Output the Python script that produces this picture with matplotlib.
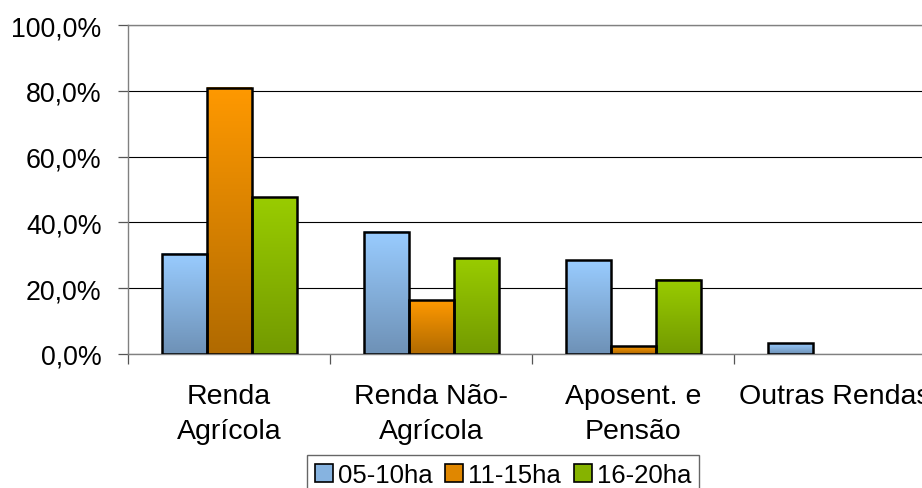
import matplotlib
matplotlib.use("Agg")
import matplotlib.pyplot as plt
import numpy as np
from matplotlib.colors import LinearSegmentedColormap
from matplotlib.patches import Patch

categories = ["Renda\nAgrícola", "Renda Não-\nAgrícola", "Aposent. e\nPensão", "Outras Rendas"]
series_names = ["05-10ha", "11-15ha", "16-20ha"]
s_05_10 = [30.4, 37.2, 28.5, 3.3]
s_11_15 = [80.9, 16.4, 2.4, 0.0]
s_16_20 = [47.7, 29.1, 22.5, 0.0]
series = [s_05_10, s_11_15, s_16_20]
yticks = [0, 20, 40, 60, 80, 100]
ytick_labels = ["0,0%", "20,0%", "40,0%", "60,0%", "80,0%", "100,0%"]

top_colors = ["#99CCFF", "#FF9900", "#99CC00"]
bottom_colors = ["#6E91B6", "#B06A00", "#739A00"]
legend_colors = ["#86B3E0", "#E08700", "#86B300"]

plt.rcParams["font.family"] = ["Liberation Sans", "DejaVu Sans"]

fig = plt.figure(figsize=(9.22, 4.89), dpi=100)
ax = fig.add_axes([128/922, (489-355)/489, 808/922, 329/489])
ax.set_xlim(-0.5, 3.5)
ax.set_ylim(0, 100)

w = 45/202
grad = np.linspace(1, 0, 256).reshape(-1, 1)
for i, vals in enumerate(series):
    cmap = LinearSegmentedColormap.from_list("g%d" % i, [bottom_colors[i], top_colors[i]])
    for j, v in enumerate(vals):
        if v <= 0:
            continue
        x0 = j + (i - 1) * w - w/2
        ax.imshow(grad, cmap=cmap, vmin=0, vmax=1, extent=[x0, x0 + w, 0, v],
                  aspect="auto", zorder=2, interpolation="bilinear")
    xs = np.arange(len(vals)) + (i - 1) * w
    hs = [v if v > 0 else np.nan for v in vals]
    ax.bar(xs, hs, width=w, facecolor="none", edgecolor="black", linewidth=1.8, zorder=3)

ax.set_xlim(-0.5, 3.5)
ax.set_ylim(0, 100)

ax.set_yticks(yticks)
ax.set_yticklabels(ytick_labels, fontsize=19.3)
ax.yaxis.grid(True, color="black", linewidth=0.8)
ax.set_axisbelow(True)
ax.tick_params(axis="y", length=7, width=0.9, color="#555555", pad=12)

ax.set_xticks(range(len(categories)))
ax.set_xticklabels(categories, fontsize=20.5, linespacing=1.42)
ax.tick_params(axis="x", which="major", length=0, pad=21)
ax.set_xticks([-0.5, 0.5, 1.5, 2.5], minor=True)
ax.tick_params(axis="x", which="minor", length=7, width=0.9, color="#555555")

for s in ["left", "top", "bottom"]:
    ax.spines[s].set_color("#808080")
    ax.spines[s].set_linewidth(1.0)
ax.spines["right"].set_visible(False)

handles = [Patch(facecolor=legend_colors[i], edgecolor="black", linewidth=1.2) for i in range(3)]
leg = fig.legend(handles, series_names, loc="upper left",
                 bbox_to_anchor=(307/922, 1 - 456/489), ncol=3, fontsize=18.5,
                 frameon=True, fancybox=False, handlelength=0.7, handleheight=0.7,
                 handletextpad=0.2, columnspacing=0.5, borderpad=0.3, borderaxespad=0)
leg.get_frame().set_edgecolor("#404040")
leg.get_frame().set_linewidth(1.0)

fig.savefig("out.png", dpi=100)
